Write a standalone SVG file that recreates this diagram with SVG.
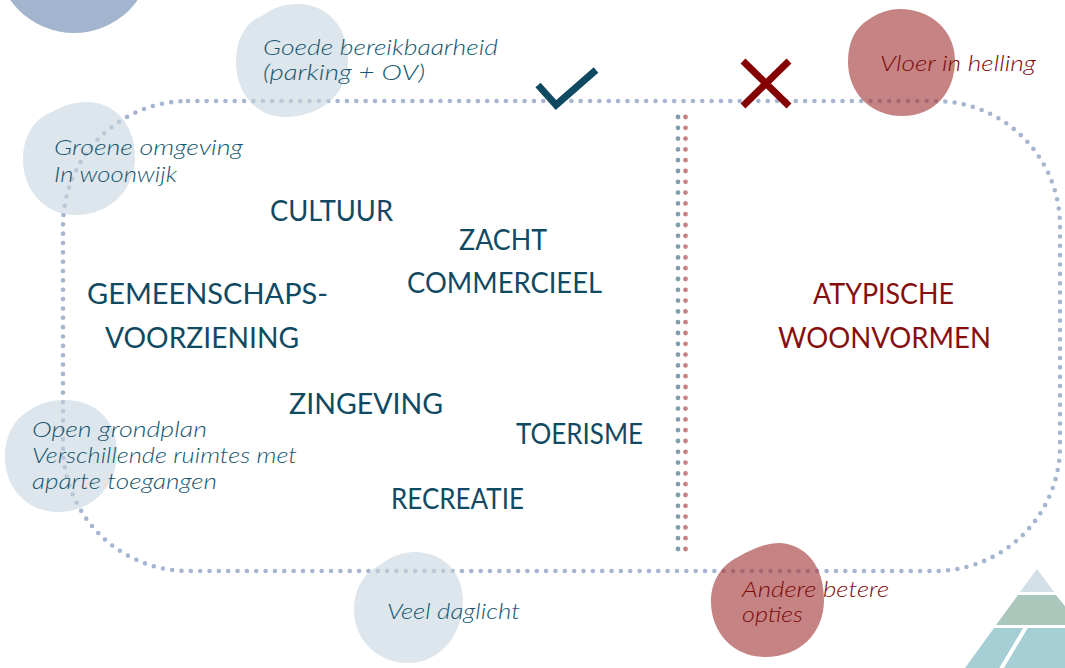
<svg xmlns="http://www.w3.org/2000/svg" width="1065" height="668" viewBox="0 0 1065 668">
<style>
.frame{fill:none;stroke:#a6b5d0;stroke-width:4.6;stroke-linecap:round;stroke-dasharray:0 9.35}
.divb{fill:none;stroke:#7f9fae;stroke-width:4.8;stroke-linecap:round;stroke-dasharray:0 10.8}
.divr{fill:none;stroke:#c98181;stroke-width:4.8;stroke-linecap:round;stroke-dasharray:0 10.8}
.lb{fill:#c6d5df;opacity:0.6}
.rb{fill:#a43b3b;opacity:0.63}
.cap{font-family:Lato,"Noto Sans",sans-serif;font-size:29px;fill:#0f4a62}
.capr{font-family:Lato,"Noto Sans",sans-serif;font-size:29px;fill:#850f0f}
.it{font-family:Lato,"Noto Sans",sans-serif;font-style:italic;font-weight:300;font-size:21px;fill:#17566f}
.itr{font-family:Lato,"Noto Sans",sans-serif;font-style:italic;font-weight:300;font-size:21px;fill:#7d0a0a}
</style>
<rect width="1065" height="668" fill="#ffffff"/>
<circle cx="74" cy="-45" r="78" fill="#a3b4cf"/>
<g id="pyramid">
<polygon points="1037,569 1054,592 1020,592" fill="#d3dfe6"/>
<polygon points="1018,595 1056,595 1080,625 996,625" fill="#a9c8bb"/>
<polygon points="994,628 1085,628 1110,668 965,668" fill="#a5cfd4"/>
<line x1="1026" y1="627" x2="1001" y2="669" stroke="#ffffff" stroke-width="4"/>
</g>
<g id="connectors">
<rect class="frame" x="63" y="101" width="997" height="470" rx="125" ry="125"/>
<line class="divb" x1="678" y1="117" x2="678" y2="552"/>
<line class="divr" x1="685.5" y1="117" x2="685.5" y2="552"/>
</g>
<g id="check"><polyline points="538,85 556,105 596,70" fill="none" stroke="#0f4a62" stroke-width="7"/></g>
<g id="cross"><path d="M743,61 L789,106 M789,61 L743,106" stroke="#850000" stroke-width="7"/></g>
<g id="goede">
<path class="lb" d="M297,4 C330,4 349,30 348,62 C347,95 320,117 285,117 C255,117 236,92 236,62 C236,40 245,22 262,16 C272,8 284,4 297,4 Z"/>
<text class="it" x="263" y="55" textLength="235" lengthAdjust="spacingAndGlyphs">Goede bereikbaarheid</text>
<text class="it" x="263" y="80" textLength="162" lengthAdjust="spacingAndGlyphs">(parking + OV)</text>
</g>
<g id="groene">
<path class="lb" d="M87,102 C115,102 135,125 135,157 C135,190 110,215 75,215 C45,215 23,190 23,160 C23,135 35,118 52,112 C62,106 74,102 87,102 Z"/>
<text class="it" x="54" y="155" textLength="189" lengthAdjust="spacingAndGlyphs">Groene omgeving</text>
<text class="it" x="54" y="182" textLength="123" lengthAdjust="spacingAndGlyphs">In woonwijk</text>
</g>
<g id="open">
<path class="lb" d="M65,400 C95,400 117,420 117,452 C117,487 92,512 58,512 C27,512 5,488 5,457 C5,435 15,418 30,410 C40,403 52,400 65,400 Z"/>
<text class="it" x="32" y="437" textLength="175" lengthAdjust="spacingAndGlyphs">Open grondplan</text>
<text class="it" x="32" y="463" textLength="265" lengthAdjust="spacingAndGlyphs">Verschillende ruimtes met</text>
<text class="it" x="32" y="489" textLength="185" lengthAdjust="spacingAndGlyphs">aparte toegangen</text>
</g>
<g id="veel">
<path class="lb" d="M415,552 C442,552 463,572 463,600 C463,635 440,663 408,663 C378,663 354,640 354,610 C354,588 365,572 380,565 C390,557 402,552 415,552 Z"/>
<text class="it" x="387" y="619" textLength="133" lengthAdjust="spacingAndGlyphs">Veel daglicht</text>
</g>
<g id="vloer">
<path class="rb" d="M900,9 C930,9 955,30 955,60 C955,92 935,116 902,116 C870,116 848,92 848,62 C848,42 855,28 868,20 C878,13 888,9 900,9 Z"/>
<text class="itr" x="880" y="71" textLength="156" lengthAdjust="spacingAndGlyphs">Vloer in helling</text>
</g>
<g id="andere">
<path class="rb" d="M780,543 C808,545 824,568 824,600 C824,633 800,657 765,657 C733,657 711,632 711,602 C711,580 722,565 738,557 C752,549 765,543 780,543 Z"/>
<text class="itr" x="742" y="597" textLength="147" lengthAdjust="spacingAndGlyphs">Andere betere</text>
<text class="itr" x="742" y="622" textLength="61" lengthAdjust="spacingAndGlyphs">opties</text>
</g>
<g id="cultuur"><text class="cap" x="270" y="221" textLength="123" lengthAdjust="spacingAndGlyphs">CULTUUR</text></g>
<g id="zacht"><text class="cap" x="459" y="250" textLength="88" lengthAdjust="spacingAndGlyphs">ZACHT</text>
<text class="cap" x="407" y="293" textLength="195" lengthAdjust="spacingAndGlyphs">COMMERCIEEL</text></g>
<g id="gemeenschap"><text class="cap" x="87" y="304" textLength="241" lengthAdjust="spacingAndGlyphs">GEMEENSCHAPS-</text>
<text class="cap" x="105" y="348" textLength="194" lengthAdjust="spacingAndGlyphs">VOORZIENING</text></g>
<g id="zingeving"><text class="cap" x="289" y="414" textLength="154" lengthAdjust="spacingAndGlyphs">ZINGEVING</text></g>
<g id="toerisme"><text class="cap" x="516" y="444" textLength="127" lengthAdjust="spacingAndGlyphs">TOERISME</text></g>
<g id="recreatie"><text class="cap" x="391" y="509" textLength="133" lengthAdjust="spacingAndGlyphs">RECREATIE</text></g>
<g id="atypisch"><text class="capr" x="813" y="304" textLength="141" lengthAdjust="spacingAndGlyphs">ATYPISCHE</text>
<text class="capr" x="778" y="348" textLength="213" lengthAdjust="spacingAndGlyphs">WOONVORMEN</text></g>
</svg>
